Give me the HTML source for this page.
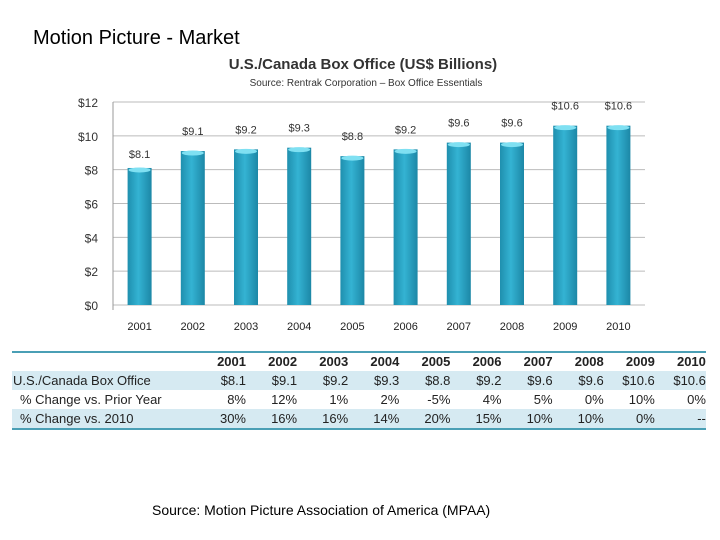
<!DOCTYPE html>
<html><head><meta charset="utf-8"><style>
body{margin:0;width:720px;height:540px;background:#fff;position:relative;overflow:hidden;font-family:"Liberation Sans",sans-serif}
.t{position:absolute;white-space:nowrap}
</style></head><body>
<div class="t" style="left:33px;top:27px;font-size:20px;color:#000">Motion Picture - Market</div>
<svg id="chart" width="720" height="340" style="position:absolute;left:0;top:0">
<text x="363" y="69" text-anchor="middle" font-size="15" font-weight="bold" fill="#333">U.S./Canada Box Office (US$ Billions)</text>
<text x="366" y="86" text-anchor="middle" font-size="10" fill="#333">Source: Rentrak Corporation – Box Office Essentials</text>
<g id="g"></g>
</svg>
<svg id="tbl" width="720" height="100" style="position:absolute;left:0;top:340px"></svg>
<div class="t" style="left:152px;top:502px;font-size:14px;color:#000">Source: Motion Picture Association of America (MPAA)</div>
<script>
const years=["2001","2002","2003","2004","2005","2006","2007","2008","2009","2010"];
const values=[8.1,9.1,9.2,9.3,8.8,9.2,9.6,9.6,10.6,10.6];
const yTicks=[0,2,4,6,8,10,12];
const priorYear=["8%","12%","1%","2%","-5%","4%","5%","0%","10%","0%"];
const vs2010=["30%","16%","16%","14%","20%","15%","10%","10%","0%","--"];
const NS="http://www.w3.org/2000/svg";
function mk(p,t,a,txt){const e=document.createElementNS(NS,t);for(const k in a)e.setAttribute(k,a[k]);if(txt!=null)e.textContent=txt;p.appendChild(e);return e;}
const g=document.getElementById('g');
const x0=113,x1=645,yb=305,yt=102,yMax=12;
const y=v=>yb-(v/yMax)*(yb-yt);
const step=(x1-x0)/years.length;
const xc=i=>x0+step*(i+0.5);
yTicks.forEach(v=>{
 const l=mk(g,'line',{x1:x0,x2:x1,y1:y(v),y2:y(v),stroke:'#bbb','stroke-width':1});
 
 
 const t=mk(g,'text',{x:98,y:y(v)+5,'text-anchor':'end','font-size':12,fill:'#333'},'$'+v);
 
 
});
mk(g,'line',{x1:x0,x2:x0,y1:yt,y2:yb+5,stroke:'#999'});
const defs=mk(g,'defs',{});
const lg=mk(defs,'linearGradient',{id:'bg',x1:0,x2:1,y1:0,y2:0});
mk(lg,'stop',{offset:'0','stop-color':'#1f8fae'});
mk(lg,'stop',{offset:'0.45','stop-color':'#34b3d3'});
mk(lg,'stop',{offset:'1','stop-color':'#1c87a6'});
values.forEach((v,i)=>{
 const bw=24,bx=xc(i)-bw/2;
 const r=mk(g,'rect',{x:bx,y:y(v),width:bw,height:yb-y(v),fill:'url(#bg)'});
 
 
 mk(g,'ellipse',{cx:xc(i),cy:y(v)+2,rx:bw/2-1,ry:2.5,fill:'#7fe0f2'});
 const t=mk(g,'text',{x:xc(i),y:y(v)-16+ (i==0?6:0),'text-anchor':'middle','font-size':11,fill:'#333'},'$'+v);
 
 
 const xl=mk(g,'text',{x:xc(i),y:330,'text-anchor':'middle','font-size':11,fill:'#222'},years[i]);
 
 
});
const tb=document.getElementById('tbl');
mk(tb,'rect',{x:12,y:31,width:694,height:19,fill:'#d6eaf2'});
mk(tb,'rect',{x:12,y:69,width:694,height:19,fill:'#d6eaf2'});
mk(tb,'line',{x1:12,x2:706,y1:12,y2:12,stroke:'#4a9fb5','stroke-width':2});
mk(tb,'line',{x1:12,x2:706,y1:89,y2:89,stroke:'#4a9fb5','stroke-width':2});
const colR=i=>246+i*51.1;
const rows=[[null,years,true],["U.S./Canada Box Office",values.map(v=>'$'+v),false],[" % Change vs. Prior Year",priorYear,false],[" % Change vs. 2010",vs2010,false]];
rows.forEach((r,ri)=>{
 const yy=26+ri*19;
 if(r[0]){const t=mk(tb,'text',{x:ri==1?13:20,y:yy,'font-size':13,fill:'#222'},r[0].trim());
 
 }
 r[1].forEach((c,i)=>{
  const t=mk(tb,'text',{x:colR(i),y:yy,'text-anchor':'end','font-size':13,'font-weight':r[2]?'bold':'normal',fill:'#222'},c);
  
  
 });
});
</script>
</body></html>
